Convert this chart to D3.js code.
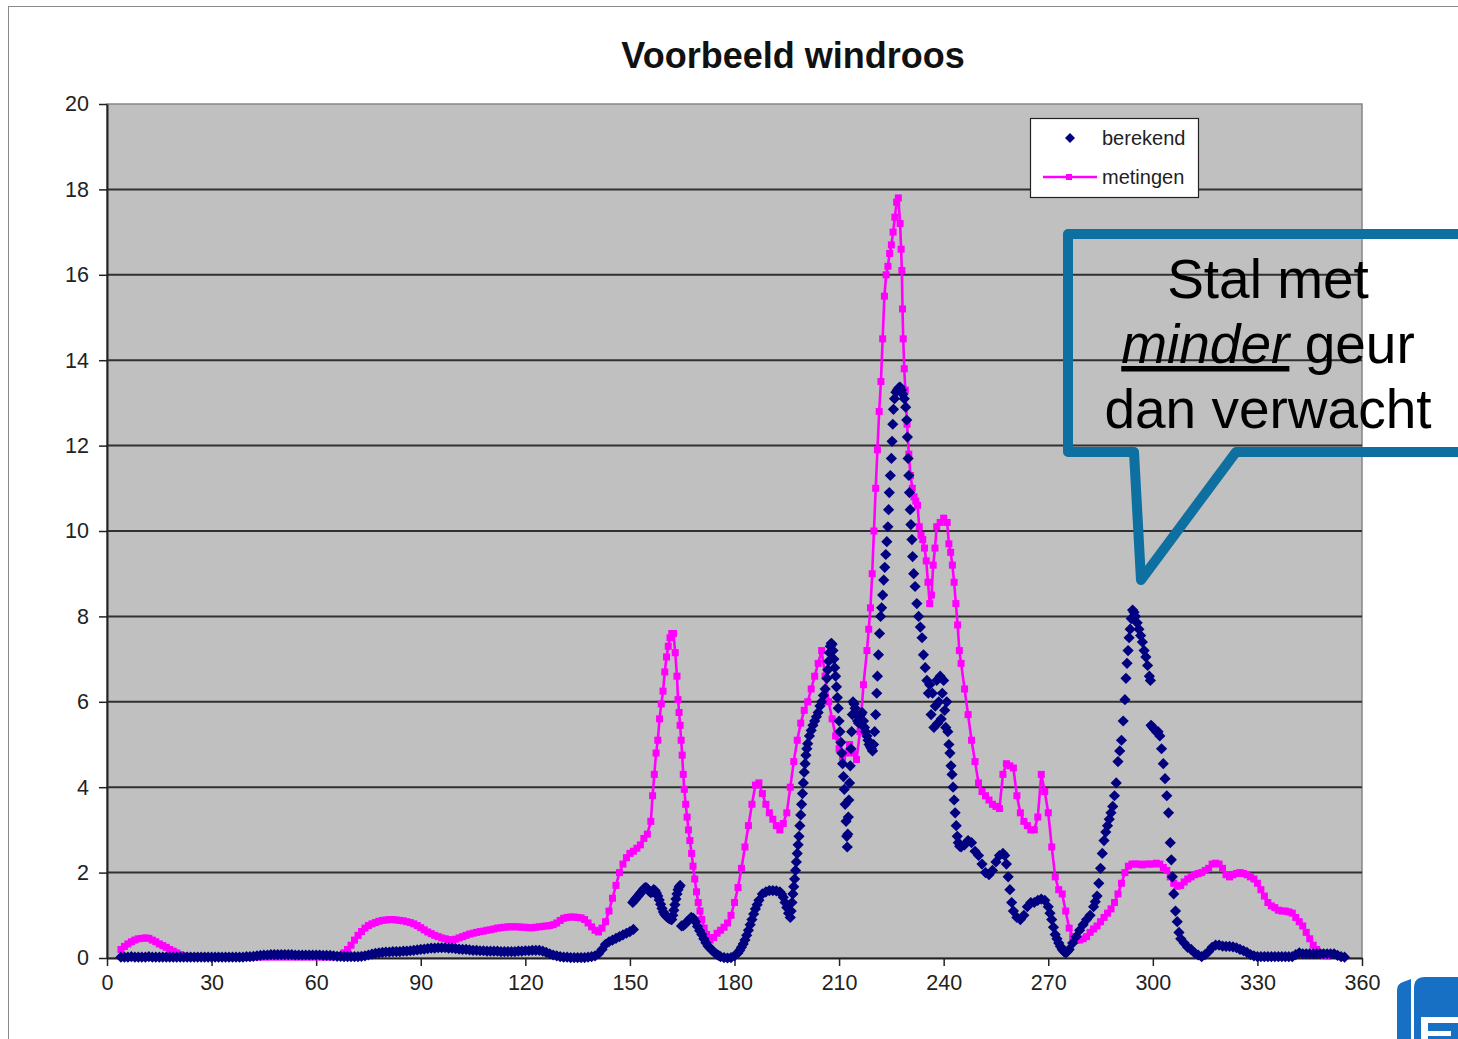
<!DOCTYPE html>
<html>
<head>
<meta charset="utf-8">
<script src="https://cdn.jsdelivr.net/npm/d3@7"></script>
<style>
  body { margin: 0; background: #fff; }
  svg { display: block; font-family: "Liberation Sans", Arial, sans-serif; }
</style>
</head>
<body>
<svg id="chart" width="1458" height="1039"></svg>
<script>
// [wind direction in degrees, share in %] for the computed series
const berekend = [
  [4,.02],[5,.02],[6,.02],[7,.03],[8,.02],[9,.02],[10,.02],[11,.02],[12,.03],[13,.02],[14,.02],[15,.02],
  [16,.02],[17,.02],[18,.02],[19,.02],[20,.02],[21,.02],[22,.02],[23,.02],[24,.02],[25,.02],[26,.02],[27,.02],
  [28,.02],[29,.02],[30,.02],[31,.02],[32,.02],[33,.02],[34,.02],[35,.02],[36,.02],[37,.02],[38,.02],[39,.02],
  [40,.03],[41,.03],[42,.04],[43,.05],[44,.06],[45,.07],[46,.07],[47,.08],[48,.08],[49,.08],[50,.08],[51,.08],
  [52,.08],[53,.08],[54,.07],[55,.07],[56,.07],[57,.07],[58,.07],[59,.07],[60,.07],[61,.07],[62,.06],[63,.06],
  [64,.06],[65,.05],[66,.04],[67,.04],[68,.03],[69,.03],[70,.03],[71,.03],[72,.03],[73,.04],[74,.05],[75,.07],
  [76,.09],[77,.11],[78,.12],[79,.13],[80,.14],[81,.14],[82,.15],[83,.15],[84,.15],[85,.16],[86,.16],[87,.17],
  [88,.18],[89,.19],[90,.2],[91,.21],[92,.22],[93,.23],[94,.23],[95,.24],[96,.24],[97,.24],[98,.23],[99,.23],
  [100,.22],[101,.21],[102,.2],[103,.2],[104,.19],[105,.18],[106,.18],[107,.17],[108,.17],[109,.16],[110,.16],
  [111,.16],[112,.16],[113,.15],[114,.15],[115,.15],[116,.15],[117,.15],[118,.16],[119,.16],[120,.17],[121,.17],
  [122,.18],[123,.18],[124,.18],[125,.16],[126,.13],[127,.1],[128,.07],[129,.05],[130,.03],[131,.02],[132,.02],
  [133,.01],[134,.01],[135,.01],[136,.01],[137,.01],[138,.02],[139,.03],[140,.05],[141,.1],[142,.2],[143,.32],
  [144,.38],[145,.42],[146,.46],[147,.5],[148,.54],[149,.58],[150,.62],[151,.67],
  [150.8,1.3],[151.2,1.34],[151.6,1.38],[152,1.42],[152.4,1.46],[152.8,1.5],[153.2,1.54],[153.6,1.58],[154,1.62],
  [154.4,1.65],[154.8,1.64],[155.2,1.6],[155.6,1.56],[156,1.53],[156.4,1.55],[156.8,1.6],[157.2,1.58],[157.6,1.52],
  [158,1.45],[158.4,1.36],[158.8,1.26],[159.2,1.16],[159.6,1.08],[160,1.02],[160.4,.98],[160.8,.95],[161.2,.93],
  [161.6,.91],[162,.9],[162.3,1.0],[162.6,1.12],[162.9,1.25],[163.2,1.38],[163.5,1.5],[163.8,1.6],[164.1,1.66],
  [164.4,1.7],
  [164.8,.75],[165.3,.76],[165.8,.79],[166.4,.85],[167,.9],[167.6,.95],[168.2,.93],[168.8,.85],[169.4,.74],
  [170,.64],[170.6,.55],[171.2,.45],[171.8,.36],[172.4,.28],[173,.23],[173.6,.18],[174.2,.13],[174.8,.09],
  [175.4,.06],[176,.03],[177,.01],[178,0],[179,.01],[180,.05],[181,.12],[181.5,.18],[182,.25],[182.5,.33],
  [183,.42],[183.5,.53],[184,.65],[184.5,.78],[185,.9],[185.5,1.03],[186,1.15],[186.5,1.25],[187,1.35],[188,1.5],
  [189,1.55],[190,1.58],[191,1.58],[192,1.57],[193,1.55],[193.5,1.5],[194,1.42],[194.5,1.3],[195,1.18],
  [195.5,1.05],[196,.95],[196.25,1.1],[196.5,1.3],[196.75,1.5],[197,1.67],[197.25,1.85],[197.5,2.05],[197.75,2.25],
  [198,2.45],[198.25,2.65],[198.5,2.85],[198.75,3.1],[199,3.35],[199.25,3.6],[199.5,3.85],[199.75,4.1],[200,4.35],
  [200.25,4.55],[200.5,4.75],[200.75,4.9],[201,5.02],[201.5,5.2],[202,5.33],[202.5,5.45],[203,5.55],[203.5,5.65],
  [204,5.75],[204.5,5.9],[205,6.0],[205.5,6.15],[206,6.3],[206.5,6.55],[206.75,6.75],[207,6.95],[207.25,7.15],
  [207.5,7.3],[207.75,7.37],[208,7.35],[208.25,7.2],[208.5,7.0],[208.75,6.8],[209,6.6],[209.25,6.35],[209.5,6.1],
  [209.75,5.85],[210,5.55],[210.25,5.3],[210.5,5.05],[210.75,4.8],[211,4.55],[211.25,4.25],[211.5,3.95],
  [211.75,3.6],[212,3.2],[212.2,2.85],[212.35,2.6],[212.5,2.9],[212.65,3.3],[212.8,3.7],[213,4.1],[213.2,4.5],
  [213.4,4.9],[213.6,5.3],[213.8,5.7],[214,6.0],[214.3,5.95],[214.6,5.85],[215,5.7],[215.3,5.55],[215.6,5.5],
  [216,5.6],[216.3,5.7],[216.6,5.75],[217,5.55],[217.3,5.4],[217.6,5.3],[218,5.2],[218.3,5.1],[218.6,5.0],
  [219,4.95],[219.3,4.9],[219.6,4.85],[219.9,5.0],[220.2,5.3],[220.5,5.7],[220.8,6.2],[221,6.6],[221.3,7.1],
  [221.6,7.6],[221.9,8.0],[222.2,8.2],[222.5,8.5],[222.8,8.85],[223.1,9.15],[223.4,9.45],[223.7,9.75],[224,10.1],
  [224.2,10.5],[224.4,10.9],[224.7,11.3],[225,11.7],[225.2,12.1],[225.4,12.5],[225.6,12.85],[225.9,13.1],
  [226.3,13.25],[226.7,13.3],[227.1,13.35],[227.5,13.37],[227.9,13.3],[228.3,13.2],[228.7,13.1],[229.1,12.9],
  [229.4,12.6],[229.6,12.2],[229.8,11.7],[230,11.3],[230.2,10.9],[230.4,10.5],[230.6,10.15],[230.9,9.8],
  [231.1,9.4],[231.4,9.0],[231.8,8.7],[232.3,8.3],[232.8,8.0],[233.3,7.75],[233.8,7.5],[234.2,7.1],[234.7,6.8],
  [235.2,6.5],[235.6,6.2],[236,6.4],[236.4,5.7],[236.8,6.2],[237.2,5.4],[237.6,5.9],[238,6.5],[238.3,5.5],
  [238.6,6.0],[239,6.6],[239.3,5.6],[239.6,6.2],[240,6.5],[240.3,5.8],[240.6,5.4],[240.9,6.0],[241.2,5.3],
  [241.5,5.0],[241.8,4.8],[242.1,4.5],[242.4,4.3],[242.7,4.0],[243,3.7],[243.3,3.4],[243.6,3.1],[243.9,2.85],
  [244.2,2.7],[244.6,2.62],[245,2.6],[246,2.65],[247,2.75],[248,2.7],[249,2.5],[250,2.4],[251,2.2],[252,2.0],
  [253,1.95],[254,2.05],[255,2.25],[256,2.4],[257,2.45],[257.5,2.4],[258,2.2],[258.5,1.9],[259,1.6],[259.5,1.3],
  [260,1.1],[261,.95],[262,.9],[263,1.0],[264,1.2],[265,1.3],[266,1.3],[267,1.35],[268,1.38],[269,1.35],[270,1.2],
  [270.5,1.05],[271,.9],[271.5,.72],[272,.55],[272.5,.45],[273,.35],[273.5,.27],[274,.2],[274.5,.15],[275,.12],
  [275.5,.15],[276,.2],[277,.35],[278,.5],[279,.65],[280,.78],[281,.9],[282,1.0],[283,1.2],[283.5,1.32],[284,1.45],
  [284.5,1.75],[285,2.1],[285.5,2.45],[286,2.75],[286.5,2.95],[287,3.1],[287.5,3.25],[288,3.4],[288.5,3.55],
  [289,3.8],[289.5,4.1],[290,4.6],[290.5,4.85],[291,5.1],[291.5,5.55],[292,6.05],[292.3,6.55],[292.6,6.9],
  [292.9,7.2],[293.2,7.5],[293.5,7.7],[293.8,7.95],[294.2,8.15],[294.6,8.1],[295,8.0],[295.5,7.85],[296,7.7],
  [296.5,7.55],[297,7.4],[297.5,7.2],[298,7.05],[298.5,6.85],[299,6.6],[299.3,6.5],[299.5,5.45],[300,5.4],
  [300.5,5.35],[301,5.3],[301.5,5.3],[302,5.2],[302.5,4.9],[303,4.55],[303.5,4.2],[304,3.8],[304.5,3.4],[305,2.7],
  [305.3,2.3],[305.6,1.9],[306,1.5],[306.5,1.1],[307,.85],[307.5,.6],[308,.45],[309,.35],[310,.25],[311,.2],
  [312,.12],[313,.07],[314,.03],[315,.08],[316,.15],[317,.25],[318,.3],[319,.3],[320,.28],[321,.27],[322,.27],
  [323,.26],[324,.24],[325,.2],[326,.17],[327,.13],[328,.08],[329,.05],[330,.03],[331,.03],[332,.03],[333,.03],
  [334,.03],[335,.03],[336,.03],[337,.03],[338,.03],[339,.03],[340,.03],[341,.08],[342,.12],[343,.1],[344,.1],
  [345,.1],[346,.1],[347,.1],[348,.1],[349,.1],[350,.1],[351,.1],[352,.1],[353,.06],[354,.03],[355,.02]
];

// [wind direction in degrees, share in %] for the measured series
const metingen = [
  [4,.2],[5,.27],[6,.33],[7,.38],[8,.42],[9,.45],[10,.46],[11,.47],[12,.46],[13,.42],[14,.38],[15,.33],[16,.29],
  [17,.25],[18,.2],[19,.16],[20,.12],[21,.08],[22,.05],[23,.03],[24,.02],[26,.02],[28,.02],[30,.02],[32,.02],
  [34,.02],[36,.02],[38,.02],[40,.02],[42,.02],[44,.02],[46,.02],[48,.02],[50,.02],[52,.02],[54,.02],[56,.02],
  [58,.02],[60,.02],[62,.02],[64,.02],[66,.03],[67,.05],[68,.12],[69,.2],[70,.3],[71,.42],[72,.53],[73,.62],
  [74,.7],[75,.76],[76,.8],[77,.83],[78,.86],[79,.88],[80,.89],[81,.9],[82,.9],[83,.89],[84,.88],[85,.87],
  [86,.85],[87,.83],[88,.8],[89,.76],[90,.71],[91,.66],[92,.61],[93,.57],[94,.53],[95,.5],[96,.47],[97,.45],
  [98,.43],[99,.42],[100,.44],[101,.47],[102,.5],[103,.53],[104,.56],[105,.58],[106,.6],[107,.62],[108,.63],
  [109,.65],[110,.66],[111,.68],[112,.7],[113,.71],[114,.72],[115,.73],[116,.73],[117,.73],[118,.73],[119,.72],
  [120,.72],[121,.71],[122,.71],[123,.72],[124,.73],[125,.74],[126,.75],[127,.76],[128,.78],[129,.82],[130,.88],
  [131,.93],[132,.95],[133,.96],[134,.96],[135,.95],[136,.94],[137,.9],[138,.82],[139,.73],[140,.65],[141,.61],
  [142,.7],[143,.85],[144,1.1],[145,1.4],[146,1.7],[147,2.0],[148,2.2],[149,2.35],[150,2.45],[151,2.5],
  [152,2.57],[153,2.65],[154,2.8],[155,2.9],[156,3.2],[156.5,3.8],[157,4.3],[157.5,4.8],[158,5.1],[158.5,5.6],
  [159,5.95],[159.5,6.25],[160,6.7],[160.5,7.05],[161,7.3],[161.5,7.5],[162,7.6],[162.5,7.6],[163,7.15],
  [163.5,6.6],[163.8,6.05],[164.1,5.75],[164.4,5.45],[164.7,5.1],[165,4.75],[165.3,4.3],[165.6,3.95],[166,3.6],
  [166.4,3.3],[166.8,3.0],[167.2,2.75],[167.7,2.45],[168.1,2.15],[168.6,1.85],[169.1,1.55],[169.6,1.3],
  [170.1,1.1],[170.6,.9],[171.3,.7],[172,.55],[173,.42],[174,.48],[175,.58],[176,.65],[177,.72],[178,.82],
  [179,1.0],[180,1.3],[181,1.65],[182,2.1],[183,2.6],[184,3.1],[185,3.6],[186,4.05],[187,4.1],[188,3.85],
  [189,3.6],[190,3.4],[191,3.25],[192,3.1],[193,3.0],[194,3.15],[195,3.4],[196,4.0],[197,4.6],[198,5.1],
  [199,5.5],[200,5.8],[201,6.0],[202,6.3],[203,6.6],[204,6.9],[205,7.2],[206,6.6],[207,6.0],[208,5.6],
  [209,5.2],[210,4.9],[211,4.7],[212,4.8],[213,5.0],[214,4.8],[215,4.65],[216,5.3],[217,6.4],[218,7.2],
  [218.5,7.7],[219,8.2],[219.5,9.0],[220,10.0],[220.5,11.0],[221,11.9],[221.5,12.8],[222,13.5],[222.5,14.5],
  [223,15.5],[223.5,16.0],[224,16.2],[224.5,16.5],[225,16.7],[225.5,17.0],[226,17.35],[226.5,17.7],[227,17.8],
  [227.5,17.2],[227.8,16.6],[228,16.1],[228.2,15.2],[228.4,14.5],[228.7,13.8],[229,13.3],[229.5,12.5],
  [230,11.8],[230.5,11.3],[231,11.0],[231.5,10.8],[232,10.7],[232.5,10.6],[233,10.1],[233.5,9.9],[234,9.8],
  [234.5,9.6],[235,9.3],[235.5,8.8],[236,8.3],[236.5,8.5],[237,9.2],[237.5,9.6],[238,10.1],[239,10.2],
  [240,10.3],[241,10.2],[241.5,9.7],[242,9.5],[242.5,9.2],[243,8.8],[243.5,8.3],[244,7.8],[244.5,7.2],[245,6.9],
  [246,6.3],[247,5.7],[248,5.1],[249,4.6],[250,4.1],[251,3.9],[252,3.8],[253,3.7],[254,3.6],[255,3.55],[256,3.5],
  [257,4.3],[258,4.55],[259,4.5],[260,4.45],[261,3.8],[262,3.4],[263,3.2],[264,3.1],[265,3.0],[266,3.0],
  [267,3.3],[268,4.3],[269,3.9],[270,3.4],[271,2.6],[272,1.9],[273,1.6],[274,1.5],[275,1.1],[276,.7],[277,.5],
  [278,.42],[279,.42],[280,.45],[281,.5],[282,.6],[283,.68],[284,.75],[285,.85],[286,.95],[287,1.05],
  [288,1.15],[289,1.3],[290,1.5],[291,1.75],[292,2.0],[293,2.15],[294,2.2],[295,2.2],[296,2.2],[297,2.18],
  [298,2.2],[299,2.2],[300,2.2],[301,2.22],[302,2.2],[303,2.12],[304,2.05],[305,1.9],[306,1.75],[307,1.68],
  [308,1.7],[309,1.78],[310,1.85],[311,1.9],[312,1.95],[313,1.98],[314,2.0],[315,2.05],[316,2.1],[317,2.2],
  [318,2.22],[319,2.2],[320,2.1],[321,1.95],[322,1.9],[323,1.95],[324,1.98],[325,2.0],[326,1.98],[327,1.95],
  [328,1.9],[329,1.85],[330,1.75],[331,1.6],[332,1.45],[333,1.3],[334,1.22],[335,1.18],[336,1.12],[337,1.1],
  [338,1.1],[339,1.08],[340,1.05],[341,.95],[342,.85],[343,.75],[344,.6],[345,.45],[346,.3],[347,.2],
  [348,.12],[349,.07],[350,.05]
];

const xTicks = [0, 30, 60, 90, 120, 150, 180, 210, 240, 270, 300, 330, 360];
const yTicks = [0, 2, 4, 6, 8, 10, 12, 14, 16, 18, 20];
const seriesNames = ["berekend", "metingen"];
const calloutLines = ["Stal met", "minder", " geur", "dan verwacht"];

const svg = d3.select("#chart");
const plot = { left: 107, right: 1362, top: 104, bottom: 958 };

const x = d3.scaleLinear().domain([0, 360]).range([plot.left, plot.right]);
const y = d3.scaleLinear().domain([0, 20]).range([plot.bottom, plot.top]);

// Outer chart frame
svg.append("rect").attr("x", 8.5).attr("y", 6.5).attr("width", 1600).attr("height", 1200)
  .attr("fill", "#fff").attr("stroke", "#8a8a8a").attr("stroke-width", 1);

// Title
svg.append("text").attr("x", 793).attr("y", 68).attr("text-anchor", "middle")
  .attr("font-size", 36).attr("font-weight", "bold").attr("fill", "#111")
  .text("Voorbeeld windroos");

// Plot background
svg.append("rect").attr("x", plot.left).attr("y", plot.top)
  .attr("width", plot.right - plot.left).attr("height", plot.bottom - plot.top)
  .attr("fill", "#c0c0c0").attr("stroke", "#858585").attr("stroke-width", 1.5);

// Horizontal gridlines
svg.append("g").selectAll("line").data(yTicks.filter(v => v > 0 && v < 20)).join("line")
  .attr("x1", plot.left).attr("x2", plot.right)
  .attr("y1", d => y(d)).attr("y2", d => y(d))
  .attr("stroke", "#303030").attr("stroke-width", 2);

// Axes
const yAxis = d3.axisLeft(y).tickValues(yTicks).tickSize(8).tickSizeOuter(0).tickPadding(10).tickFormat(d3.format("d"));
const xAxis = d3.axisBottom(x).tickValues(xTicks).tickSize(8).tickSizeOuter(0).tickPadding(9).tickFormat(d3.format("d"));

const gy = svg.append("g").attr("transform", `translate(${plot.left},0)`).call(yAxis);
const gx = svg.append("g").attr("transform", `translate(0,${plot.bottom})`).call(xAxis);
[gx, gy].forEach(g => {
  g.select(".domain").attr("stroke", "#222").attr("stroke-width", 2);
  g.selectAll(".tick line").attr("stroke", "#222").attr("stroke-width", 1.5);
  g.selectAll(".tick text").attr("font-size", 21.5).attr("fill", "#222")
    .attr("font-family", "'Liberation Sans', Arial, sans-serif");
});

svg.append("defs").append("clipPath").attr("id", "plotclip")
  .append("rect").attr("x", plot.left - 10).attr("y", plot.top - 10)
  .attr("width", plot.right - plot.left + 20).attr("height", plot.bottom - plot.top + 20);
const layer = svg.append("g").attr("clip-path", "url(#plotclip)");

// metingen: magenta line with square markers
layer.append("path").datum(metingen)
  .attr("fill", "none").attr("stroke", "#ff00ff").attr("stroke-width", 2.6)
  .attr("d", d3.line().x(d => x(d[0])).y(d => y(d[1])));
layer.append("g").selectAll("rect").data(metingen).join("rect")
  .attr("x", d => x(d[0]) - 3.5).attr("y", d => y(d[1]) - 3.5)
  .attr("width", 7).attr("height", 7).attr("fill", "#ff00ff");

// berekend: navy diamond markers
const diamond = "M0,-5.6L5.6,0L0,5.6L-5.6,0Z";
layer.append("g").selectAll("path").data(berekend).join("path")
  .attr("d", diamond).attr("fill", "#000080")
  .attr("transform", d => `translate(${x(d[0])},${y(d[1])})`);

// Legend
const lg = svg.append("g");
lg.append("rect").attr("x", 1030.5).attr("y", 118.5).attr("width", 168).attr("height", 79)
  .attr("fill", "#fff").attr("stroke", "#222").attr("stroke-width", 1.2);
lg.append("path").attr("d", "M0,-5L5,0L0,5L-5,0Z").attr("fill", "#000080")
  .attr("transform", "translate(1070,138)");
lg.append("line").attr("x1", 1043).attr("x2", 1097).attr("y1", 177).attr("y2", 177)
  .attr("stroke", "#ff00ff").attr("stroke-width", 2.5);
lg.append("rect").attr("x", 1066).attr("y", 174).attr("width", 6).attr("height", 6).attr("fill", "#ff00ff");
lg.selectAll("text").data(seriesNames).join("text")
  .attr("x", 1102).attr("y", (d, i) => 145 + i * 39)
  .attr("font-size", 20).attr("fill", "#222").text(d => d);

// Callout balloon
const teal = "#0d70a0";
svg.append("path")
  .attr("d", "M1480,234 H1068 V452 H1134 L1141,580 L1236,452 H1480")
  .attr("fill", "none").attr("stroke", teal).attr("stroke-width", 10)
  .attr("stroke-linejoin", "round");

const ct = svg.append("text").attr("text-anchor", "middle").attr("font-size", 55).attr("fill", "#000");
ct.append("tspan").attr("x", 1268).attr("y", 298).text(calloutLines[0]);
const l2 = ct.append("tspan").attr("x", 1268).attr("y", 363);
l2.append("tspan").attr("font-style", "italic").attr("text-decoration", "underline").text(calloutLines[1]);
l2.append("tspan").text(calloutLines[2]);
ct.append("tspan").attr("x", 1268).attr("y", 428).text(calloutLines[3]);

// Corner logo
const logo = svg.append("g");
logo.append("path").attr("d", "M1397,1039 V990 Q1397,984 1403,982 L1411,979 V1039 Z").attr("fill", "#1770c4");
logo.append("path").attr("d", "M1414,1039 V988 Q1414,977 1425,977 H1470 V1039 Z").attr("fill", "#1770c4");
logo.append("rect").attr("x", 1421).attr("y", 1017).attr("width", 7).attr("height", 30).attr("fill", "#fff");
logo.append("rect").attr("x", 1421).attr("y", 1017).attr("width", 40).attr("height", 6).attr("fill", "#fff");
logo.append("rect").attr("x", 1421).attr("y", 1031).attr("width", 30).attr("height", 5).attr("fill", "#fff");
</script>
</body>
</html>
